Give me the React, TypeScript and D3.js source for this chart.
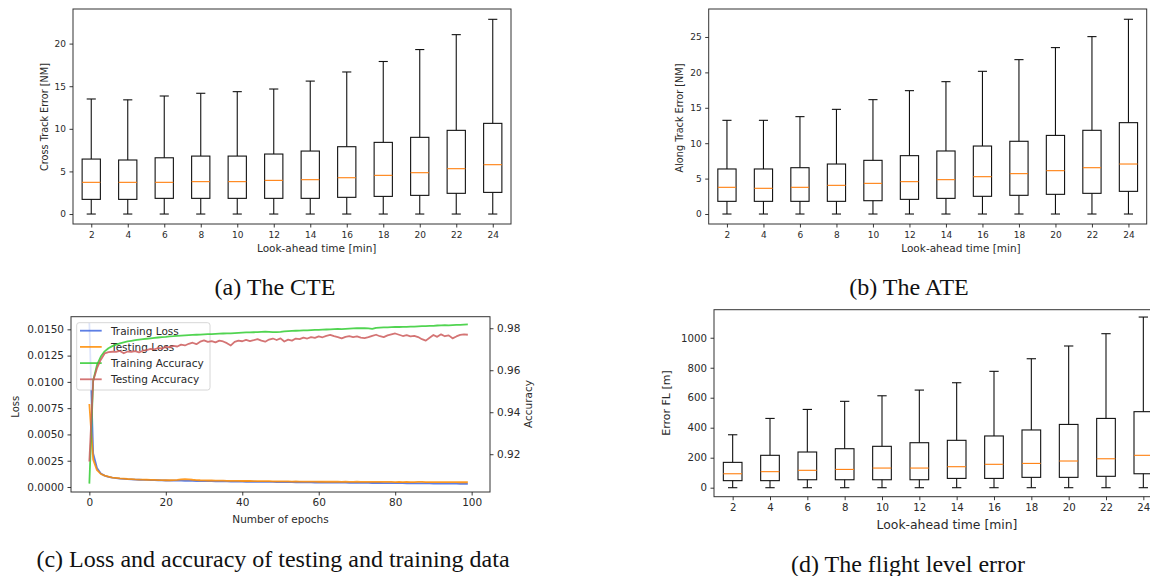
import React, { useRef, useEffect } from 'react';
import * as d3 from 'd3';

// look-ahead times for the three box plots
const lookAhead = [2, 4, 6, 8, 10, 12, 14, 16, 18, 20, 22, 24];

// (a) cross track error [NM]
const cteLow = [0, 0, 0, 0, 0, 0, 0, 0, 0, 0, 0, 0];
const cteQ1 = [1.72, 1.72, 1.84, 1.84, 1.84, 1.84, 1.84, 1.96, 2.07, 2.19, 2.43, 2.54];
const cteMed = [3.72, 3.72, 3.72, 3.8, 3.8, 3.95, 4.03, 4.26, 4.54, 4.85, 5.32, 5.79];
const cteQ3 = [6.45, 6.34, 6.6, 6.8, 6.8, 7.04, 7.39, 7.9, 8.41, 9.0, 9.82, 10.64];
const cteHigh = [13.5, 13.4, 13.85, 14.17, 14.36, 14.67, 15.6, 16.67, 17.9, 19.3, 21.05, 22.85];

// (b) along track error [NM]
const ateLow = [0, 0, 0, 0, 0, 0, 0, 0, 0, 0, 0, 0];
const ateQ1 = [1.79, 1.79, 1.79, 1.79, 1.88, 2.07, 2.21, 2.5, 2.64, 2.78, 2.92, 3.2];
const ateMed = [3.77, 3.63, 3.77, 4.05, 4.33, 4.57, 4.85, 5.27, 5.7, 6.12, 6.54, 7.06];
const ateQ3 = [6.36, 6.36, 6.54, 7.06, 7.58, 8.24, 8.9, 9.6, 10.27, 11.1, 11.82, 12.9];
const ateHigh = [13.23, 13.23, 13.75, 14.78, 16.15, 17.42, 18.69, 20.15, 21.8, 23.5, 25.05, 27.5];

// (d) flight level error [m]
const flLow = [0, 0, 0, 0, 0, 0, 0, 0, 0, 0, 0, 0];
const flQ1 = [47, 47, 53, 53, 53, 53, 62, 62, 69, 69, 76, 93];
const flMed = [93, 107, 116, 122, 131, 131, 140, 156, 162, 178, 193, 216];
const flQ3 = [169, 216, 238, 260, 276, 300, 316, 345, 385, 422, 462, 507];
const flHigh = [353, 462, 522, 576, 613, 651, 700, 776, 860, 945, 1027, 1138];

// (c) per-epoch loss / accuracy, epochs 0..99
const trainLoss = [
  0.0156, 0.0032, 0.0018, 0.00128, 0.00108, 0.00096, 0.00089, 0.00084, 0.0008, 0.00077,
  0.00074, 0.00072, 0.0007, 0.00069, 0.00068, 0.00067, 0.00066, 0.00065, 0.00064, 0.00063,
  0.00062, 0.00061, 0.00061, 0.0006, 0.0006, 0.00059, 0.00058, 0.00058, 0.00057, 0.00056,
  0.00056, 0.00055, 0.00055, 0.00054, 0.00054, 0.00053, 0.00053, 0.00052, 0.00052, 0.00051,
  0.00051, 0.0005, 0.0005, 0.0005, 0.00049, 0.00049, 0.00048, 0.00048, 0.00048, 0.00047,
  0.00047, 0.00046, 0.00046, 0.00046, 0.00045, 0.00045, 0.00044, 0.00044, 0.00044, 0.00043,
  0.00043, 0.00043, 0.00042, 0.00042, 0.00042, 0.00041, 0.00041, 0.00041, 0.0004, 0.0004,
  0.0004, 0.00039, 0.00039, 0.00039, 0.00038, 0.00038, 0.00038, 0.00037, 0.00037, 0.00037,
  0.00036, 0.00036, 0.00036, 0.00035, 0.00035, 0.00035, 0.00034, 0.00034, 0.00034, 0.00034,
  0.00033, 0.00033, 0.00033, 0.00032, 0.00032, 0.00032, 0.00032, 0.00031, 0.00031, 0.00031,
];
const testLoss = [
  0.0079, 0.0026, 0.0016, 0.00124, 0.00108, 0.00098, 0.0009, 0.00086, 0.00082, 0.00079,
  0.00076, 0.00074, 0.00072, 0.00071, 0.0007, 0.00069, 0.00068, 0.00067, 0.00066, 0.00065,
  0.00064, 0.00064, 0.00065, 0.00068, 0.00072, 0.00075, 0.00073, 0.00069, 0.00066, 0.00064,
  0.00063, 0.00062, 0.00062, 0.00061, 0.0006, 0.0006, 0.00059, 0.00059, 0.00058, 0.00058,
  0.00057, 0.00057, 0.00057, 0.00056, 0.00056, 0.00055, 0.00055, 0.00055, 0.00054, 0.00054,
  0.00053, 0.00054, 0.00053, 0.00052, 0.00053, 0.00052, 0.00052, 0.00051, 0.00052, 0.00051,
  0.0005, 0.00051, 0.0005, 0.0005, 0.00051, 0.0005, 0.00049, 0.0005, 0.00049, 0.00049,
  0.0005, 0.00049, 0.00048, 0.00049, 0.00048, 0.00049, 0.00048, 0.00048, 0.00049, 0.00048,
  0.00047, 0.00048, 0.00047, 0.00048, 0.00047, 0.00047, 0.00048, 0.00049, 0.00047, 0.00046,
  0.00047, 0.00046, 0.00047, 0.00046, 0.00046, 0.00047, 0.00046, 0.00045, 0.00046, 0.00045,
];
const trainAcc = [
  0.906, 0.955, 0.9625, 0.9665, 0.969, 0.9705, 0.9715, 0.9722, 0.9728, 0.9733,
  0.9737, 0.974, 0.9743, 0.9746, 0.9748, 0.975, 0.9752, 0.9754, 0.9756, 0.9758,
  0.9759, 0.9761, 0.9762, 0.9764, 0.9765, 0.9766, 0.9767, 0.9768, 0.9769, 0.977,
  0.9771, 0.9772, 0.9772, 0.9773, 0.9774, 0.9775, 0.9776, 0.9776, 0.9777, 0.9778,
  0.9779, 0.978, 0.978, 0.9781, 0.9782, 0.9783, 0.9784, 0.9783, 0.9782, 0.9782,
  0.9783, 0.9785, 0.9786, 0.9787, 0.9788, 0.9789, 0.979, 0.979, 0.9791, 0.9792,
  0.9792, 0.9793, 0.9794, 0.9795, 0.9796, 0.9797, 0.9796, 0.9797, 0.9798, 0.9799,
  0.98, 0.98, 0.9801, 0.9799, 0.9797, 0.9802, 0.9803, 0.9804, 0.9804, 0.9805,
  0.9806, 0.9806, 0.9807, 0.9807, 0.9808, 0.9808, 0.9809, 0.981, 0.981, 0.9811,
  0.9811, 0.9813, 0.9814, 0.9815, 0.9814, 0.9815, 0.9816, 0.9816, 0.9817, 0.9818,
];
const testAcc = [
  0.9165, 0.955, 0.961, 0.965, 0.968, 0.9686, 0.9688, 0.9687, 0.9692, 0.9681,
  0.9689, 0.9688, 0.9691, 0.9685, 0.9693, 0.9696, 0.9702, 0.9699, 0.9706, 0.9703,
  0.9712, 0.9709, 0.9716, 0.9713, 0.9722, 0.9718, 0.9726, 0.9731, 0.9724, 0.9736,
  0.9742, 0.9735, 0.9739, 0.9733, 0.9741, 0.9737, 0.9729, 0.9718, 0.9735, 0.9741,
  0.9738, 0.9745, 0.9739, 0.9743, 0.9748, 0.9741, 0.9736, 0.9746, 0.9751, 0.9744,
  0.9752, 0.9737, 0.9746, 0.9741, 0.9751, 0.9748, 0.9755, 0.9751, 0.9758, 0.9754,
  0.9761, 0.9757, 0.9764, 0.9768, 0.9762, 0.9758, 0.9752, 0.9759, 0.9762, 0.9758,
  0.9761, 0.9755, 0.9753, 0.9758, 0.9764, 0.9769, 0.9762, 0.9758, 0.9766, 0.9771,
  0.9775, 0.9769, 0.9763, 0.9767, 0.9761, 0.9764, 0.9758, 0.9748, 0.9741, 0.9755,
  0.9768, 0.9759, 0.9771, 0.9762, 0.9766, 0.9752, 0.9761, 0.9768, 0.9771, 0.9769,
];

const sans = 'DejaVu Sans';
const serif = 'Liberation Serif';

const styleAxis = (g, size) => {
  g.select('.domain').remove();
  g.selectAll('line').attr('stroke', '#222').attr('stroke-width', 0.9);
  g.selectAll('text').attr('fill', '#2a2a2a').attr('font-size', size).attr('font-family', sans);
};

const drawBoxPanel = (svg, p) => {
  const x = d3.scaleLinear().domain([0.5, 12.5]).range([p.left, p.right]);
  const y = d3.scaleLinear().domain(p.yDomain).range([p.bottom, p.top]);
  const bw = (x(2) - x(1)) * 0.5;
  const g = svg.append('g');
  lookAhead.forEach((t, i) => {
    const cx = x(i + 1);
    const seg = (x1, y1, x2, y2, color = '#111') =>
      g.append('line').attr('x1', x1).attr('y1', y1).attr('x2', x2).attr('y2', y2)
        .attr('stroke', color).attr('stroke-width', 1.1);
    seg(cx, y(p.low[i]), cx, y(p.q1[i]));
    seg(cx, y(p.q3[i]), cx, y(p.high[i]));
    seg(cx - bw / 4, y(p.low[i]), cx + bw / 4, y(p.low[i]));
    seg(cx - bw / 4, y(p.high[i]), cx + bw / 4, y(p.high[i]));
    g.append('rect').attr('x', cx - bw / 2).attr('y', y(p.q3[i]))
      .attr('width', bw).attr('height', y(p.q1[i]) - y(p.q3[i]))
      .attr('fill', 'none').attr('stroke', '#111').attr('stroke-width', 1.1);
    seg(cx - bw / 2, y(p.med[i]), cx + bw / 2, y(p.med[i]), '#ff7f0e');
  });
  svg.append('rect').attr('x', p.left).attr('y', p.top)
    .attr('width', p.right - p.left).attr('height', p.bottom - p.top)
    .attr('fill', 'none').attr('stroke', '#333').attr('stroke-width', 1);
  svg.append('g').attr('transform', `translate(0,${p.bottom})`)
    .call(d3.axisBottom(x).tickValues(d3.range(1, 13)).tickFormat(d => lookAhead[d - 1])
      .tickSize(3.5).tickPadding(4))
    .call(g2 => styleAxis(g2, p.tickSize));
  svg.append('g').attr('transform', `translate(${p.left},0)`)
    .call(d3.axisLeft(y).tickValues(p.yTicks).tickFormat(d3.format('d')).tickSize(3.5).tickPadding(3.5))
    .call(g2 => styleAxis(g2, p.tickSize));
  svg.append('text').attr('x', p.xLabel[0]).attr('y', p.xLabel[1])
    .attr('text-anchor', 'middle').attr('dominant-baseline', 'central')
    .attr('font-family', sans).attr('font-size', p.xLabelSize).attr('fill', '#2a2a2a')
    .text('Look-ahead time [min]');
  svg.append('text')
    .attr('transform', `translate(${p.yLabel[0]},${p.yLabel[1]}) rotate(-90)`)
    .attr('text-anchor', 'middle').attr('dominant-baseline', 'central')
    .attr('font-family', sans).attr('font-size', p.yLabelSize).attr('fill', '#2a2a2a')
    .text(p.yTitle);
};

const drawLossPanel = (svg) => {
  const left = 71, right = 490, top = 316.7, bottom = 492;
  const x = d3.scaleLinear().domain([-4.8, 104.8]).range([left, right]);
  const yL = d3.scaleLinear().domain([-0.000476, 0.0162]).range([bottom, top]);
  const yR = d3.scaleLinear().domain([0.902, 0.9855]).range([bottom, top]);
  svg.append('clipPath').attr('id', 'clipc')
    .append('rect').attr('x', left).attr('y', top).attr('width', right - left).attr('height', bottom - top);
  const plot = svg.append('g').attr('clip-path', 'url(#clipc)');
  const series = [
    { name: 'Training Loss', data: trainLoss, color: '#4169e1', scale: yL },
    { name: 'Testing Loss', data: testLoss, color: '#ff8c00', scale: yL },
    { name: 'Training Accuracy', data: trainAcc, color: '#32cd32', scale: yR },
    { name: 'Testing Accuracy', data: testAcc, color: '#cd5c5c', scale: yR },
  ];
  const drawSeries = (s, target) => {
    const line = d3.line().x((d, i) => x(i)).y(d => s.scale(d));
    target.append('path').attr('d', line(s.data)).attr('fill', 'none')
      .attr('stroke', s.color).attr('stroke-width', 1.8).attr('stroke-opacity', 0.85)
      .attr('stroke-linejoin', 'round');
  };
  drawSeries(series[0], plot);
  drawSeries(series[1], plot);

  // legend sits between loss and accuracy lines
  const lg = svg.append('g');
  lg.append('rect').attr('x', 76.7).attr('y', 322.7).attr('width', 133.3).attr('height', 67.3)
    .attr('rx', 2.5).attr('fill', 'white').attr('fill-opacity', 0.8)
    .attr('stroke', '#cccccc').attr('stroke-width', 0.8);
  series.forEach((s, i) => {
    const ly = 330.7 + i * 16.2;
    lg.append('line').attr('x1', 80).attr('x2', 101.7).attr('y1', ly).attr('y2', ly)
      .attr('stroke', s.color).attr('stroke-width', 1.8).attr('stroke-opacity', 0.85);
    lg.append('text').attr('x', 111).attr('y', ly).attr('dominant-baseline', 'central')
      .attr('font-family', sans).attr('font-size', 10.5).attr('fill', '#2a2a2a').text(s.name);
  });

  const plot2 = svg.append('g').attr('clip-path', 'url(#clipc)');
  drawSeries(series[2], plot2);
  drawSeries(series[3], plot2);

  svg.append('rect').attr('x', left).attr('y', top).attr('width', right - left).attr('height', bottom - top)
    .attr('fill', 'none').attr('stroke', '#333').attr('stroke-width', 1);
  svg.append('g').attr('transform', `translate(0,${bottom})`)
    .call(d3.axisBottom(x).tickValues([0, 20, 40, 60, 80, 100]).tickSize(3.5).tickPadding(3.5))
    .call(g => styleAxis(g, 10.5));
  svg.append('g').attr('transform', `translate(${left},0)`)
    .call(d3.axisLeft(yL).tickValues([0, 0.0025, 0.005, 0.0075, 0.01, 0.0125, 0.015])
      .tickFormat(d3.format('.4f')).tickSize(3.5).tickPadding(3.5))
    .call(g => styleAxis(g, 10.5));
  svg.append('g').attr('transform', `translate(${right},0)`)
    .call(d3.axisRight(yR).tickValues([0.92, 0.94, 0.96, 0.98])
      .tickFormat(d3.format('.2f')).tickSize(3.5).tickPadding(3.5))
    .call(g => styleAxis(g, 10.5));
  svg.append('text').attr('x', 280.5).attr('y', 519).attr('text-anchor', 'middle')
    .attr('dominant-baseline', 'central').attr('font-family', sans).attr('font-size', 10.5)
    .attr('fill', '#2a2a2a').text('Number of epochs');
  svg.append('text').attr('transform', 'translate(15,406.7) rotate(-90)')
    .attr('text-anchor', 'middle').attr('dominant-baseline', 'central')
    .attr('font-family', sans).attr('font-size', 10).attr('fill', '#2a2a2a').text('Loss');
  svg.append('text').attr('transform', 'translate(528,404) rotate(-90)')
    .attr('text-anchor', 'middle').attr('dominant-baseline', 'central')
    .attr('font-family', sans).attr('font-size', 10.5).attr('fill', '#2a2a2a').text('Accuracy');
};

const App = () => {
  const svgRef = useRef(null);
  useEffect(() => {
    const svg = d3.select(svgRef.current);
    svg.selectAll('*').remove();
    svg.append('rect').attr('width', 1150).attr('height', 576).attr('fill', 'white');

    drawBoxPanel(svg, {
      left: 73, right: 511, top: 9, bottom: 224, yDomain: [-1.17, 24.06], yTicks: [0, 5, 10, 15, 20],
      low: cteLow, q1: cteQ1, med: cteMed, q3: cteQ3, high: cteHigh,
      tickSize: 9, xLabel: [316.7, 248.3], xLabelSize: 10.5, yLabel: [44, 117], yLabelSize: 9.7,
      yTitle: 'Cross Track Error [NM]',
    });
    drawBoxPanel(svg, {
      left: 708.7, right: 1146.7, top: 9, bottom: 224, yDomain: [-1.41, 28.95], yTicks: [0, 5, 10, 15, 20, 25],
      low: ateLow, q1: ateQ1, med: ateMed, q3: ateQ3, high: ateHigh,
      tickSize: 9, xLabel: [961, 248.3], xLabelSize: 10.5, yLabel: [679, 118], yLabelSize: 9.7,
      yTitle: 'Along Track Error [NM]',
    });
    drawBoxPanel(svg, {
      left: 714, right: 1162, top: 309.7, bottom: 496.7, yDomain: [-60, 1187],
      yTicks: [0, 200, 400, 600, 800, 1000],
      low: flLow, q1: flQ1, med: flMed, q3: flQ3, high: flHigh,
      tickSize: 10.2, xLabel: [947, 524], xLabelSize: 12.4, yLabel: [666.7, 403], yLabelSize: 11,
      yTitle: 'Error FL [m]',
    });
    drawLossPanel(svg);

    const captions = [
      { text: '(a) The CTE', x: 275, y: 295 },
      { text: '(b) The ATE', x: 909, y: 295 },
      { text: '(c) Loss and accuracy of testing and training data', x: 273, y: 566.5 },
      { text: '(d) The flight level error', x: 908, y: 571.5 },
    ];
    captions.forEach(c => {
      svg.append('text').attr('x', c.x).attr('y', c.y).attr('text-anchor', 'middle')
        .attr('font-family', serif).attr('font-size', 24).attr('fill', '#111').text(c.text);
    });
  }, []);
  return (
    <div style={{ position: 'absolute', left: 0, top: 0 }}>
      <svg ref={svgRef} width={1150} height={576} style={{ display: 'block' }} />
    </div>
  );
};

export default App;
